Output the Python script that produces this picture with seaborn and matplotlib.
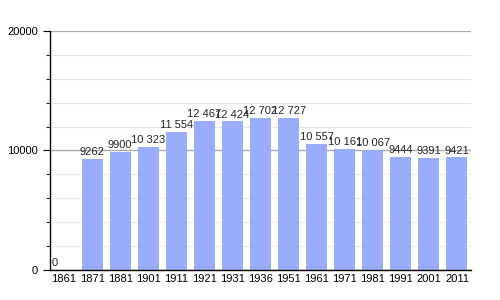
import matplotlib
matplotlib.use("Agg")
import matplotlib.pyplot as plt
import seaborn as sns
import pandas as pd
from matplotlib.ticker import MultipleLocator

years = ["1861", "1871", "1881", "1901", "1911", "1921", "1931", "1936",
         "1951", "1961", "1971", "1981", "1991", "2001", "2011"]
population = [0, 9262, 9900, 10323, 11554, 12467, 12424, 12702,
              12727, 10557, 10161, 10067, 9444, 9391, 9421]
labels = ["0", "9262", "9900", "10 323", "11 554", "12 467", "12 424", "12 702",
          "12 727", "10 557", "10 161", "10 067", "9444", "9391", "9421"]

sns.set_style("white")
plt.rcParams['font.family'] = ['Liberation Sans', 'DejaVu Sans']

df = pd.DataFrame({"year": years, "pop": population})

fig = plt.figure(figsize=(5, 3), dpi=100)
ax = fig.add_axes([0.1, 0.1, 0.842, 0.797])
ax.set_axisbelow(True)

sns.barplot(data=df, x="year", y="pop", color="#9aacfc", width=0.75,
            saturation=1, linewidth=0, edgecolor="none", ax=ax)

ax.set_xlim(-0.5, 14.5)
ax.set_ylim(0, 20000)
ax.set_xlabel("")
ax.set_ylabel("")
ax.yaxis.set_major_locator(MultipleLocator(10000))
ax.yaxis.set_minor_locator(MultipleLocator(2000))
ax.grid(False, axis="x")
ax.grid(True, axis="y", which="major", color="#aaaaaa", lw=1.0)
ax.grid(True, axis="y", which="minor", color="#e6e6e6", lw=0.8)
ax.tick_params(axis="y", which="major", length=5, width=0.8, labelsize=8,
               left=True, colors="black")
ax.tick_params(axis="y", which="minor", length=3, width=0.8, left=True)
ax.tick_params(axis="x", length=0, labelsize=8, pad=3, colors="black")

for s in ["top", "right"]:
    ax.spines[s].set_visible(False)
for s in ["left", "bottom"]:
    ax.spines[s].set_color("black")
    ax.spines[s].set_linewidth(1.0)

for i, (v, lab) in enumerate(zip(population, labels)):
    if v == 0:
        ax.text(i - 0.45, v + 150, lab, ha="left", va="bottom", fontsize=8)
    else:
        ax.text(i, v + 150, lab, ha="center", va="bottom", fontsize=8)

fig.savefig("out.png", dpi=100)
